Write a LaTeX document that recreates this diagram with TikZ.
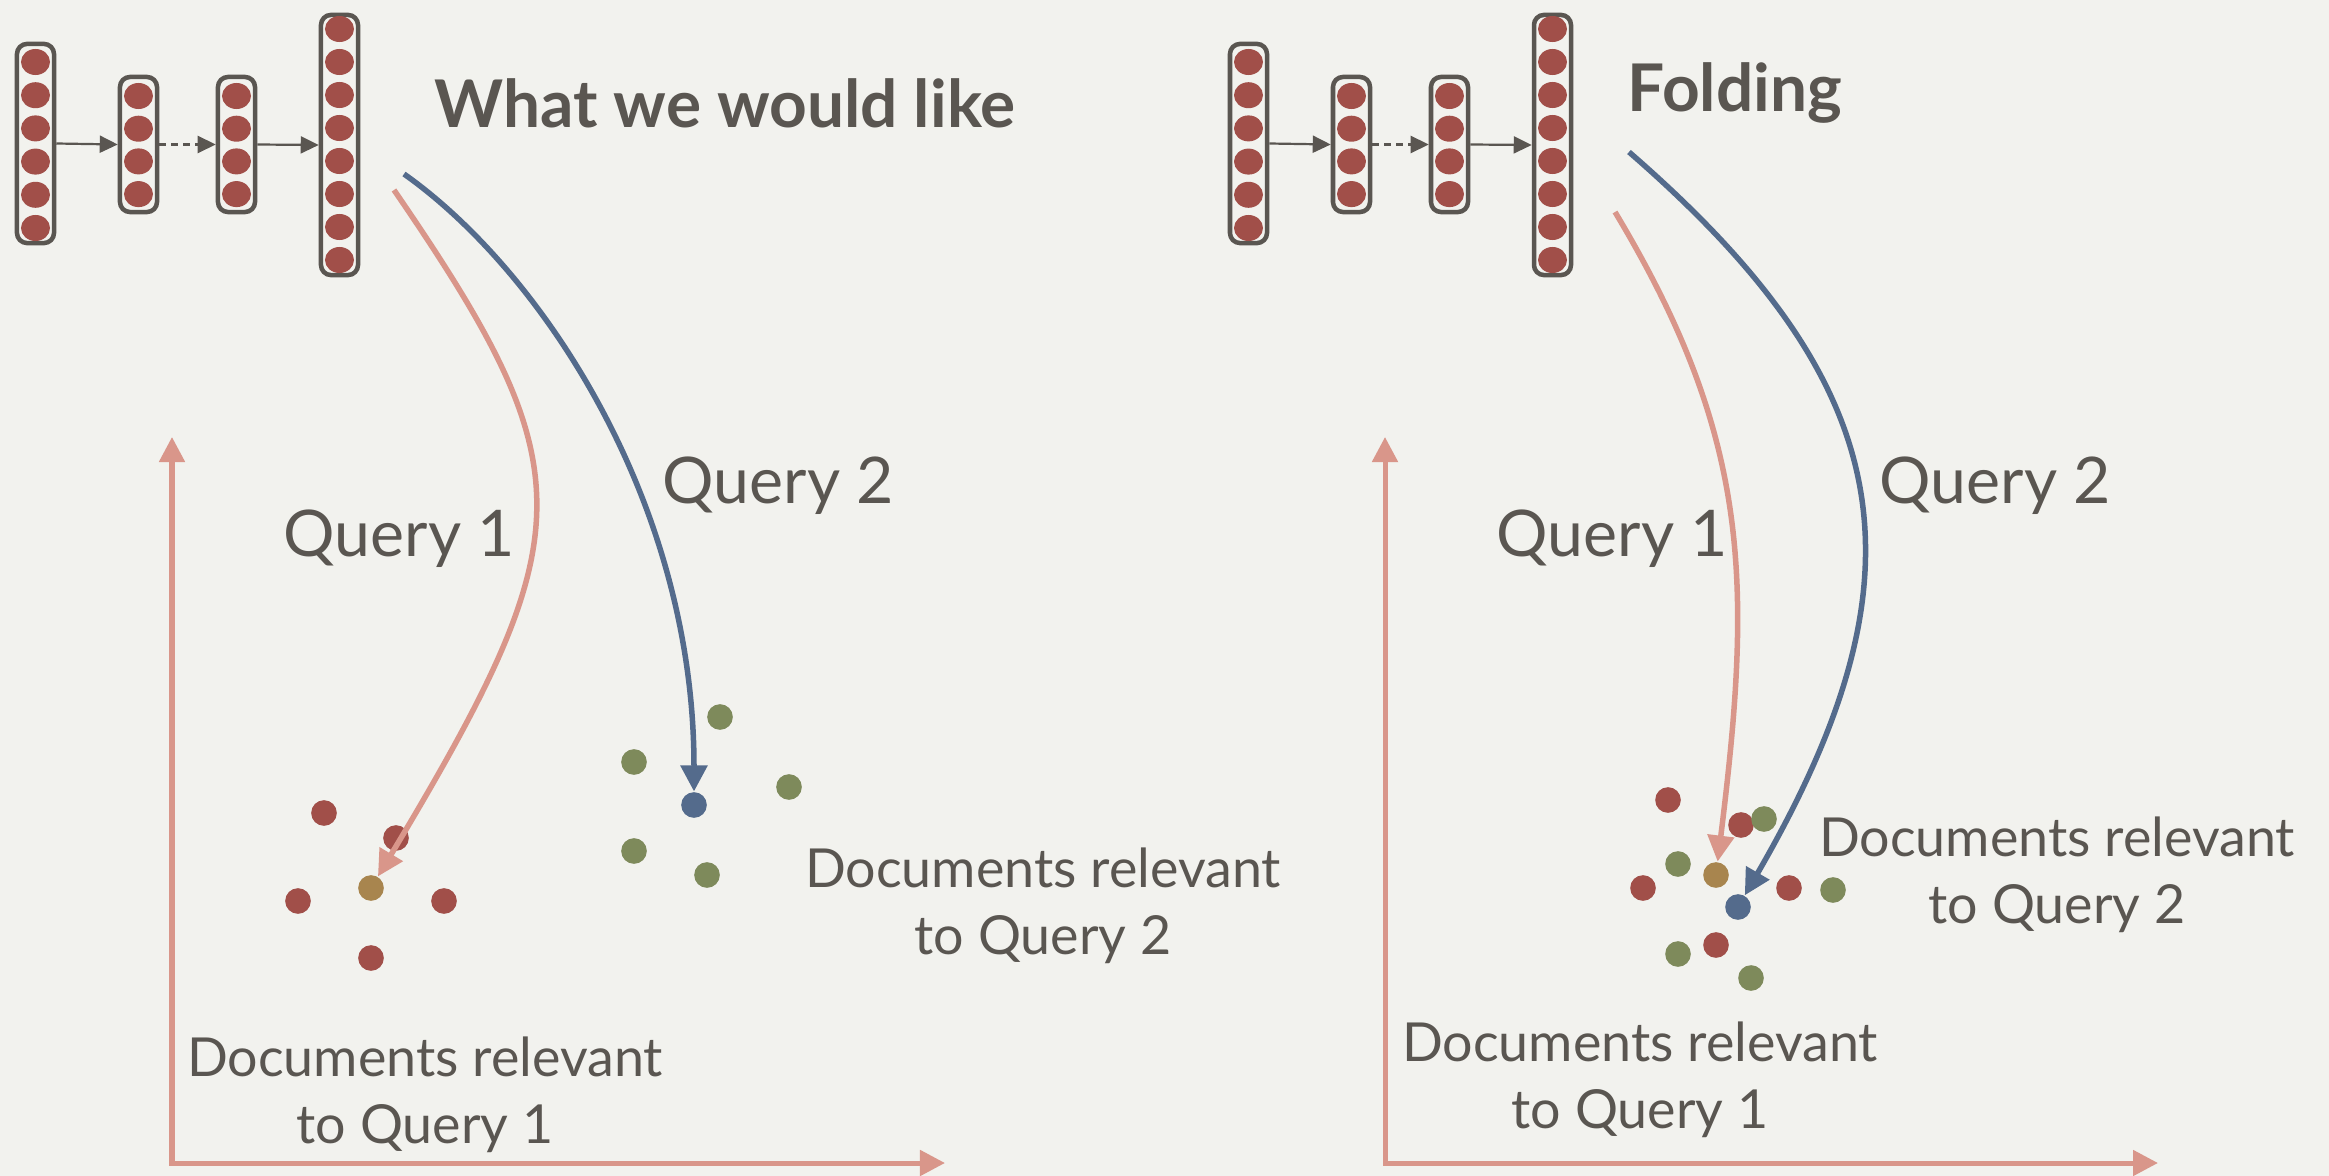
\documentclass[tikz,border=0pt]{standalone}
\usepackage{fontspec}
\setmainfont{Lato}
\usepackage{tikz}
\usetikzlibrary{arrows.meta,shapes.geometric,positioning}
\definecolor{paper}{HTML}{F2F2EE}
\definecolor{ink}{HTML}{5A5651}
\definecolor{unitred}{HTML}{A14F49}
\definecolor{salmon}{HTML}{D9968A}
\definecolor{qblue}{HTML}{546B8C}
\definecolor{docgreen}{HTML}{7E8A5B}
\definecolor{qgold}{HTML}{A8854E}
\tikzset{
      layer/.style   = {draw=ink, line width=0.045cm, rounded corners=0.1cm, minimum width=0.37cm, inner sep=0pt},
      neuron/.style  = {ellipse, fill=unitred, minimum width=0.29cm, minimum height=0.26cm, inner sep=0pt},
      feed/.style    = {ink, line width=0.022cm, -{Triangle[length=0.18cm,width=0.17cm]}},
      axis/.style    = {salmon, line width=0.05cm, {Triangle[length=0.25cm,width=0.25cm]}-{Triangle[length=0.25cm,width=0.25cm]}},
      qone/.style    = {salmon, line width=0.055cm, -{Triangle[length=0.26cm,width=0.26cm]}},
      qtwo/.style    = {qblue, line width=0.055cm, -{Triangle[length=0.26cm,width=0.26cm]}},
      pt/.style      = {circle, inner sep=0pt, minimum size=0.256cm},
      reldoc/.style  = {pt, fill=unitred},
      othdoc/.style  = {pt, fill=docgreen},
      qone pt/.style = {pt, fill=qgold},
      qtwo pt/.style = {pt, fill=qblue},
      title/.style   = {ink, inner sep=0pt, anchor=base west, font=\bfseries\fontsize{18.7}{22}\selectfont},
      qlabel/.style  = {ink, inner sep=0pt, anchor=base west, font=\fontsize{18.3}{22}\selectfont},
      doclabel/.style= {ink, inner sep=0pt, anchor=base, align=center, font=\fontsize{15.3}{18.8}\selectfont},
    }

\begin{document}
\begin{tikzpicture}[x=0.01cm, y=-0.01cm]
        \fill[paper] (0,0) rectangle (2329,1176);
        \useasboundingbox (0,0) rectangle (2329,1176);

        % network and axes, same in both panels
        \foreach \p/\dx in {l/0, r/1213} {
        \begin{scope}[shift={(\dx,0)}]
        \node[layer, minimum height=1.99cm] (\p L1) at (35.5,143.5) {};
        \node[layer, minimum height=1.35cm] (\p L2) at (138.5,144.5) {};
        \node[layer, minimum height=1.35cm] (\p L3) at (236.5,144.5) {};
        \node[layer, minimum height=2.60cm] (\p L4) at (339.5,145) {};
        \foreach \k in {0,...,5} \node[neuron] (\p a\k) at (35.5,62+33.2*\k) {};
        \foreach \k in {0,...,3} \node[neuron] (\p b\k) at (138.5,96+32.7*\k) {};
        \foreach \k in {0,...,3} \node[neuron] (\p c\k) at (236.5,96+32.7*\k) {};
        \foreach \k in {0,...,7} \node[neuron] (\p d\k) at (339.5,29+33*\k) {};

        \draw[feed] (\p L1.east) -- (\p L2.west);
        \draw[feed, dash pattern=on 0.07cm off 0.05cm] (\p L2.east) -- (\p L3.west);
        \draw[feed] (\p L3.east) -- (\p L4.west);

        \coordinate (\p Y) at (172,437);
        \coordinate (\p O) at (172,1163);
        \coordinate (\p X) at (945,1163);
        \draw[axis] (\p Y) -- (\p O) -- (\p X);
        \end{scope}
        }

        \node[title] (ltitle) at (434,128) {What we would like};
        \node[title] (rtitle) at (1627,112) {Folding};

        % left panel documents
        \node[reldoc] (lr1) at (324,813) {};
        \node[reldoc] (lr2) at (396,838) {};
        \node[reldoc] (lr3) at (298,901) {};
        \node[reldoc] (lr4) at (444,901) {};
        \node[reldoc] (lr5) at (371,958) {};
        \node[qone pt] (lq1) at (371,888) {};
        \node[othdoc] (lg1) at (720,717) {};
        \node[othdoc] (lg2) at (634,762) {};
        \node[othdoc] (lg3) at (789,787) {};
        \node[othdoc] (lg4) at (634,851) {};
        \node[othdoc] (lg5) at (707,875) {};
        \node[qtwo pt] (lq2) at (694,805) {};

        % right panel documents
        \node[reldoc] (rr1) at (1668,800) {};
        \node[reldoc] (rr2) at (1741,825) {};
        \node[othdoc] (rg1) at (1764,819) {};
        \node[othdoc] (rg2) at (1678,864) {};
        \node[reldoc] (rr3) at (1643,888) {};
        \node[reldoc] (rr4) at (1789,888) {};
        \node[othdoc] (rg3) at (1833,890) {};
        \node[reldoc] (rr5) at (1716,945) {};
        \node[othdoc] (rg4) at (1678,954) {};
        \node[othdoc] (rg5) at (1751,978) {};
        \node[qone pt] (rq1) at (1716,875) {};
        \node[qtwo pt] (rq2) at (1738,907) {};

        % queries
        \coordinate (lq1s) at (394,190);
        \coordinate (lq2s) at (404,174);
        \coordinate (rq1s) at (1615,212);
        \coordinate (rq2s) at (1629,152);
        \draw[qone] (lq1s) .. controls (586,470) and (584,533) .. (lq1);
        \draw[qtwo] (lq2s) .. controls (540,270) and (694,500) .. (lq2);
        \draw[qone] (rq1s) .. controls (1752,440) and (1752,584) .. (rq1);
        \draw[qtwo] (rq2s) .. controls (1901,388) and (1931,574) .. (rq2);

        \node[qlabel] (lq1t) at (283,557) {Query 1};
        \node[qlabel] (lq2t) at (662,503) {Query 2};
        \node[qlabel] (rq1t) at (1496,557) {Query 1};
        \node[qlabel] (rq2t) at (1879,503) {Query 2};

        \node[doclabel] (ld1) at (425,1143) {Documents relevant\\to Query 1};
        \node[doclabel] (ld2) at (1043,954) {Documents relevant\\to Query 2};
        \node[doclabel] (rd1) at (1640,1128) {Documents relevant\\to Query 1};
        \node[doclabel] (rd2) at (2057,923) {Documents relevant\\to Query 2};
\end{tikzpicture}
\end{document}
